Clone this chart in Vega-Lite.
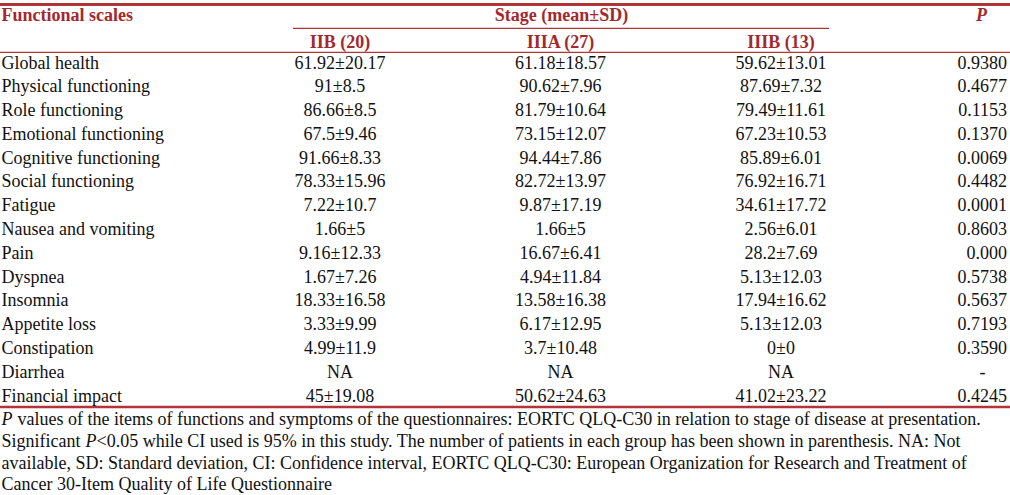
{
  "$schema": "https://vega.github.io/schema/vega-lite/v6.json",
  "width": 1010,
  "height": 495,
  "autosize": "none",
  "padding": 0,
  "background": "white",
  "config": {"view": {"stroke": null}, "text": {"font": "Liberation Serif", "fontSize": 18, "baseline": "alphabetic"}},
  "datasets": {
    "table": [
      {"row": "Global health", "IIB": "61.92±20.17", "IIIA": "61.18±18.57", "IIIB": "59.62±13.01", "P": "0.9380"},
      {"row": "Physical functioning", "IIB": "91±8.5", "IIIA": "90.62±7.96", "IIIB": "87.69±7.32", "P": "0.4677"},
      {"row": "Role functioning", "IIB": "86.66±8.5", "IIIA": "81.79±10.64", "IIIB": "79.49±11.61", "P": "0.1153"},
      {"row": "Emotional functioning", "IIB": "67.5±9.46", "IIIA": "73.15±12.07", "IIIB": "67.23±10.53", "P": "0.1370"},
      {"row": "Cognitive functioning", "IIB": "91.66±8.33", "IIIA": "94.44±7.86", "IIIB": "85.89±6.01", "P": "0.0069"},
      {"row": "Social functioning", "IIB": "78.33±15.96", "IIIA": "82.72±13.97", "IIIB": "76.92±16.71", "P": "0.4482"},
      {"row": "Fatigue", "IIB": "7.22±10.7", "IIIA": "9.87±17.19", "IIIB": "34.61±17.72", "P": "0.0001"},
      {"row": "Nausea and vomiting", "IIB": "1.66±5", "IIIA": "1.66±5", "IIIB": "2.56±6.01", "P": "0.8603"},
      {"row": "Pain", "IIB": "9.16±12.33", "IIIA": "16.67±6.41", "IIIB": "28.2±7.69", "P": "0.000"},
      {"row": "Dyspnea", "IIB": "1.67±7.26", "IIIA": "4.94±11.84", "IIIB": "5.13±12.03", "P": "0.5738"},
      {"row": "Insomnia", "IIB": "18.33±16.58", "IIIA": "13.58±16.38", "IIIB": "17.94±16.62", "P": "0.5637"},
      {"row": "Appetite loss", "IIB": "3.33±9.99", "IIIA": "6.17±12.95", "IIIB": "5.13±12.03", "P": "0.7193"},
      {"row": "Constipation", "IIB": "4.99±11.9", "IIIA": "3.7±10.48", "IIIB": "0±0", "P": "0.3590"},
      {"row": "Diarrhea", "IIB": "NA", "IIIA": "NA", "IIIB": "NA", "P": "-"},
      {"row": "Financial impact", "IIB": "45±19.08", "IIIA": "50.62±24.63", "IIIB": "41.02±23.22", "P": "0.4245"}
    ]
  },
  "encoding": {
    "y": {
      "field": "row", "type": "nominal", "axis": null,
      "scale": {
        "type": "point", "padding": 0, "range": [20.92, 425.35],
        "domain": ["h1", "h2", "Global health", "Physical functioning", "Role functioning", "Emotional functioning", "Cognitive functioning", "Social functioning", "Fatigue", "Nausea and vomiting", "Pain", "Dyspnea", "Insomnia", "Appetite loss", "Constipation", "Diarrhea", "Financial impact", "fn"]
      }
    }
  },
  "layer": [
    {
      "data": {"values": [{"row": "h1"}]},
      "mark": {"type": "rule", "color": "#b0343a", "strokeWidth": 3, "yOffset": -16.4},
      "encoding": {}
    },
    {
      "data": {"values": [{"row": "h1", "from": "IIB", "to": "IIIB"}]},
      "mark": {"type": "rule", "color": "#b0343a", "strokeWidth": 1.2, "yOffset": 7.4, "xOffset": -47, "x2Offset": 48},
      "encoding": {
        "x": {"field": "from", "type": "nominal", "axis": null, "scale": {"type": "point", "padding": 0, "range": [119.5, 1001.5], "domain": ["scale", "IIB", "IIIA", "IIIB", "P"]}},
        "x2": {"field": "to"}
      }
    },
    {
      "data": {"values": [{"row": "h2"}]},
      "mark": {"type": "rule", "color": "#b0343a", "strokeWidth": 1.2, "yOffset": 7.6},
      "encoding": {}
    },
    {
      "data": {"values": [{"row": "Financial impact"}]},
      "mark": {"type": "rule", "color": "#b0343a", "strokeWidth": 2.5, "yOffset": 5.5},
      "encoding": {}
    },
    {
      "data": {"values": [{"row": "h1", "cell": "Functional scales"}]},
      "mark": {"type": "text", "align": "left", "dx": -118, "fontWeight": "bold", "color": "#a4282d"},
      "encoding": {
        "x": {"datum": "scale", "type": "nominal", "axis": null, "scale": {"type": "point", "padding": 0, "range": [119.5, 1001.5], "domain": ["scale", "IIB", "IIIA", "IIIB", "P"]}},
        "text": {"field": "cell"}
      }
    },
    {
      "data": {"values": [{"row": "h1", "col": "IIIA", "cell": "Stage (mean±SD)"}]},
      "mark": {"type": "text", "align": "center", "dx": 1, "fontWeight": "bold", "color": "#a4282d"},
      "encoding": {
        "x": {"field": "col", "type": "nominal", "axis": null, "scale": {"type": "point", "padding": 0, "range": [119.5, 1001.5], "domain": ["scale", "IIB", "IIIA", "IIIB", "P"]}},
        "text": {"field": "cell"}
      }
    },
    {
      "data": {"values": [{"row": "h1", "col": "P", "cell": "P"}]},
      "mark": {"type": "text", "align": "center", "dx": -20, "fontWeight": "bold", "fontStyle": "italic", "color": "#a4282d"},
      "encoding": {
        "x": {"field": "col", "type": "nominal", "axis": null, "scale": {"type": "point", "padding": 0, "range": [119.5, 1001.5], "domain": ["scale", "IIB", "IIIA", "IIIB", "P"]}},
        "text": {"field": "cell"}
      }
    },
    {
      "data": {"values": [
        {"row": "h2", "col": "IIB", "cell": "IIB (20)"},
        {"row": "h2", "col": "IIIA", "cell": "IIIA (27)"},
        {"row": "h2", "col": "IIIB", "cell": "IIIB (13)"}
      ]},
      "mark": {"type": "text", "align": "center", "dy": 3.6, "fontWeight": "bold", "color": "#a4282d"},
      "encoding": {
        "x": {"field": "col", "type": "nominal", "axis": null, "scale": {"type": "point", "padding": 0, "range": [119.5, 1001.5], "domain": ["scale", "IIB", "IIIA", "IIIB", "P"]}},
        "text": {"field": "cell"}
      }
    },
    {
      "data": {"name": "table"},
      "mark": {"type": "text", "align": "left", "dx": -118, "color": "#111111"},
      "encoding": {
        "x": {"datum": "scale", "type": "nominal", "axis": null, "scale": {"type": "point", "padding": 0, "range": [119.5, 1001.5], "domain": ["scale", "IIB", "IIIA", "IIIB", "P"]}},
        "text": {"field": "row"}
      }
    },
    {
      "data": {"name": "table"},
      "transform": [{"fold": ["IIB", "IIIA", "IIIB"], "as": ["col", "cell"]}],
      "mark": {"type": "text", "align": "center", "color": "#111111"},
      "encoding": {
        "x": {"field": "col", "type": "nominal", "axis": null, "scale": {"type": "point", "padding": 0, "range": [119.5, 1001.5], "domain": ["scale", "IIB", "IIIA", "IIIB", "P"]}},
        "text": {"field": "cell"}
      }
    },
    {
      "data": {"name": "table"},
      "transform": [{"filter": "datum.P !== '-'"}],
      "mark": {"type": "text", "align": "right", "dx": 5.5, "color": "#111111"},
      "encoding": {
        "x": {"datum": "P", "type": "nominal", "axis": null, "scale": {"type": "point", "padding": 0, "range": [119.5, 1001.5], "domain": ["scale", "IIB", "IIIA", "IIIB", "P"]}},
        "text": {"field": "P"}
      }
    },
    {
      "data": {"name": "table"},
      "transform": [{"filter": "datum.P === '-'"}],
      "mark": {"type": "text", "align": "center", "dx": -19, "color": "#111111"},
      "encoding": {
        "x": {"datum": "P", "type": "nominal", "axis": null, "scale": {"type": "point", "padding": 0, "range": [119.5, 1001.5], "domain": ["scale", "IIB", "IIIA", "IIIB", "P"]}},
        "text": {"field": "P"}
      }
    },
    {
      "data": {"values": [{"row": "fn", "lines": [
        "",
        "Significant",
        "available, SD: Standard deviation, CI: Confidence interval, EORTC QLQ-C30: European Organization for Research and Treatment of",
        "Cancer 30-Item Quality of Life Questionnaire"
      ]}]},
      "mark": {"type": "text", "align": "left", "dx": -118, "lineHeight": 21.7, "color": "#111111"},
      "encoding": {
        "x": {"datum": "scale", "type": "nominal", "axis": null, "scale": {"type": "point", "padding": 0, "range": [119.5, 1001.5], "domain": ["scale", "IIB", "IIIA", "IIIB", "P"]}},
        "text": {"field": "lines"}
      }
    },
    {
      "data": {"values": [{"row": "fn", "lines": ["P"]}]},
      "mark": {"type": "text", "align": "left", "dx": -118, "lineHeight": 21.7, "fontStyle": "italic", "color": "#111111"},
      "encoding": {
        "x": {"datum": "scale", "type": "nominal", "axis": null, "scale": {"type": "point", "padding": 0, "range": [119.5, 1001.5], "domain": ["scale", "IIB", "IIIA", "IIIB", "P"]}},
        "text": {"field": "lines"}
      }
    },
    {
      "data": {"values": [{"row": "fn", "lines": ["values of the items of functions and symptoms of the questionnaires: EORTC QLQ-C30 in relation to stage of disease at presentation."]}]},
      "mark": {"type": "text", "align": "left", "dx": -102, "lineHeight": 21.7, "color": "#111111"},
      "encoding": {
        "x": {"datum": "scale", "type": "nominal", "axis": null, "scale": {"type": "point", "padding": 0, "range": [119.5, 1001.5], "domain": ["scale", "IIB", "IIIA", "IIIB", "P"]}},
        "text": {"field": "lines"}
      }
    },
    {
      "data": {"values": [{"row": "fn", "lines": ["", "P"]}]},
      "mark": {"type": "text", "align": "left", "dx": -34, "lineHeight": 21.7, "fontStyle": "italic", "color": "#111111"},
      "encoding": {
        "x": {"datum": "scale", "type": "nominal", "axis": null, "scale": {"type": "point", "padding": 0, "range": [119.5, 1001.5], "domain": ["scale", "IIB", "IIIA", "IIIB", "P"]}},
        "text": {"field": "lines"}
      }
    },
    {
      "data": {"values": [{"row": "fn", "lines": ["", "<0.05 while CI used is 95% in this study. The number of patients in each group has been shown in parenthesis. NA: Not"]}]},
      "mark": {"type": "text", "align": "left", "dx": -23, "lineHeight": 21.7, "color": "#111111"},
      "encoding": {
        "x": {"datum": "scale", "type": "nominal", "axis": null, "scale": {"type": "point", "padding": 0, "range": [119.5, 1001.5], "domain": ["scale", "IIB", "IIIA", "IIIB", "P"]}},
        "text": {"field": "lines"}
      }
    }
  ]
}
